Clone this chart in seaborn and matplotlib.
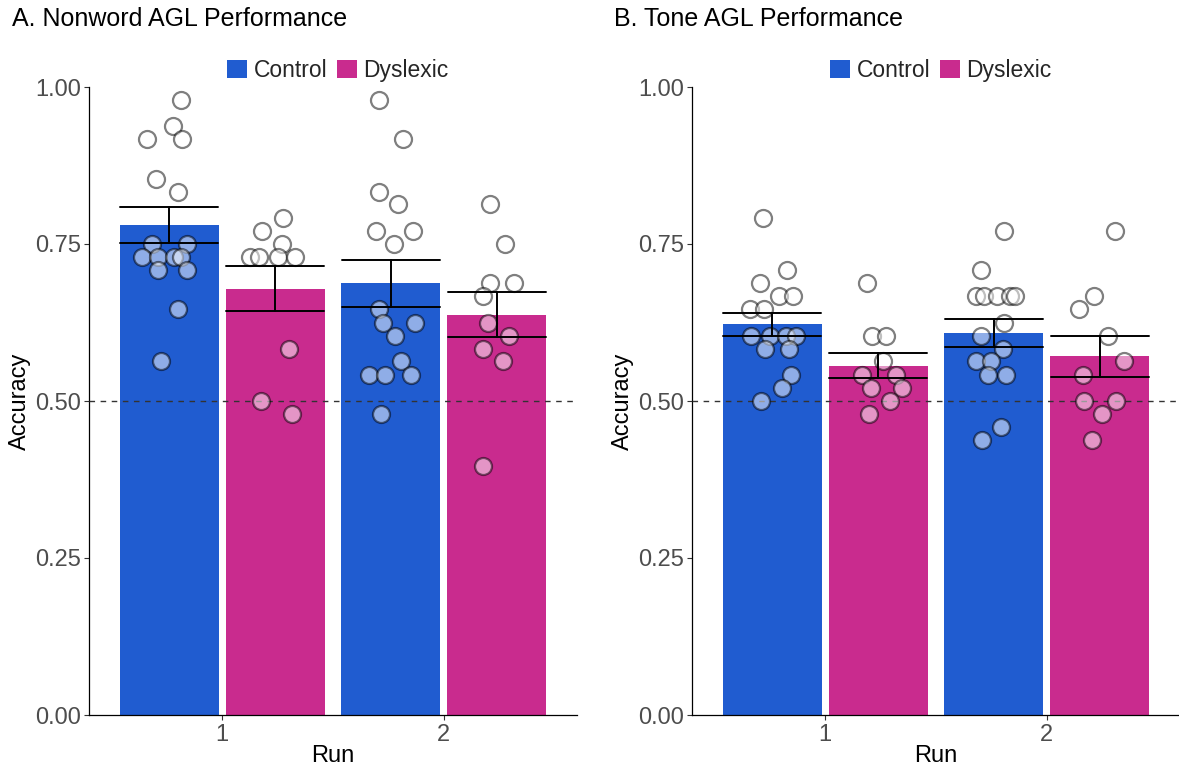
import matplotlib
matplotlib.use("Agg")
import matplotlib.pyplot as plt
import pandas as pd
import seaborn as sns

runs = ["1", "2"]
groups = ["Control", "Dyslexic"]
group_colors = {"Control": "#205CD0", "Dyslexic": "#C92B8E"}

# ---- Panel A: nonword AGL accuracy, one value per participant ----
nonword_control_run1 = [0.979, 0.938, 0.917, 0.917, 0.854, 0.833, 0.750, 0.750,
                        0.729, 0.729, 0.729, 0.729, 0.708, 0.708, 0.646, 0.563]
nonword_dyslexic_run1 = [0.792, 0.771, 0.750, 0.729, 0.729, 0.729, 0.729,
                         0.583, 0.500, 0.479]
nonword_control_run2 = [0.979, 0.917, 0.833, 0.813, 0.771, 0.771, 0.750, 0.646,
                        0.625, 0.625, 0.604, 0.563, 0.542, 0.542, 0.542, 0.479]
nonword_dyslexic_run2 = [0.813, 0.750, 0.688, 0.688, 0.667, 0.625, 0.604,
                         0.583, 0.563, 0.396]

# ---- Panel B: tone AGL accuracy, one value per participant ----
tone_control_run1 = [0.792, 0.708, 0.688, 0.667, 0.667, 0.646, 0.646, 0.604,
                     0.604, 0.604, 0.604, 0.583, 0.583, 0.542, 0.521, 0.500]
tone_dyslexic_run1 = [0.688, 0.604, 0.604, 0.563, 0.542, 0.542, 0.521, 0.521,
                      0.500, 0.479]
tone_control_run2 = [0.771, 0.708, 0.667, 0.667, 0.667, 0.667, 0.667, 0.625,
                     0.604, 0.583, 0.563, 0.563, 0.542, 0.542, 0.458, 0.438]
tone_dyslexic_run2 = [0.771, 0.667, 0.646, 0.604, 0.563, 0.542, 0.500, 0.500,
                      0.479, 0.438]

# Horizontal jitter of each participant point around its bar centre (x units)
jit_nw_c1 = [0.052, 0.017, -0.098, 0.056, -0.061, 0.040, -0.077, 0.080,
             -0.121, -0.050, 0.020, 0.055, -0.049, 0.080, 0.038, -0.038]
jit_nw_d1 = [0.035, -0.059, 0.031, -0.115, -0.073, 0.013, 0.088, 0.065, -0.064, 0.076]
jit_nw_c2 = [-0.052, 0.053, -0.052, 0.032, -0.067, 0.098, 0.016, -0.055,
             -0.034, 0.110, 0.020, 0.047, -0.100, -0.025, 0.092, -0.044]
jit_nw_d2 = [-0.029, 0.038, -0.029, 0.079, -0.062, -0.038, 0.056, -0.061, 0.028, -0.061]
jit_tn_c1 = [-0.039, 0.068, -0.055, 0.033, 0.096, -0.099, -0.035, -0.096,
             -0.009, 0.063, 0.107, -0.032, 0.078, 0.084, 0.046, -0.050]
jit_tn_d1 = [-0.052, -0.029, 0.034, 0.022, -0.073, 0.079, -0.034, 0.106, 0.056, -0.043]
jit_tn_c2 = [0.046, -0.057, -0.081, -0.047, 0.012, 0.073, 0.096, 0.046,
             -0.057, 0.041, -0.081, -0.015, -0.027, 0.055, 0.034, -0.053]
jit_tn_d2 = [0.066, -0.028, -0.095, 0.035, 0.107, -0.078, -0.072, 0.073, 0.010, -0.035]

y_ticks = [0.0, 0.25, 0.5, 0.75, 1.0]
y_tick_labels = ["0.00", "0.25", "0.50", "0.75", "1.00"]
chance_level = 0.5

DODGE_WIDTH = 0.955
TEXT_SIZE = 17
TITLE_SIZE = 18
LEGEND_SIZE = 16.5
TICK_GREY = "#4D4D4D"

sns.set_theme(style="ticks")
plt.rcParams["font.family"] = ["Liberation Sans", "DejaVu Sans"]

W, H = 1179, 769
fig = plt.figure(figsize=(W / 100, H / 100), dpi=100)
ax_a = fig.add_axes([89 / W, 54 / H, 488 / W, 628 / H])
ax_b = fig.add_axes([692 / W, 54 / H, 488 / W, 628 / H])


def long_table(cells, jitters):
    rows = []
    for (run, group), values in cells.items():
        for v, j in zip(values, jitters[(run, group)]):
            rows.append({"Run": run, "Group": group, "Accuracy": v, "jitter": j})
    return pd.DataFrame(rows)


def draw_panel(ax, df, title, title_x):
    sns.barplot(data=df, x="Run", y="Accuracy", hue="Group", order=runs,
                hue_order=groups, palette=group_colors, saturation=1,
                errorbar="se", width=DODGE_WIDTH, gap=0.066, capsize=0.89,
                err_kws={"color": "black", "linewidth": 1.4},
                edgecolor="none", ax=ax)
    for line in ax.lines:
        line.set_zorder(5)

    ax.axhline(chance_level, color="#333333", linewidth=1.0,
               linestyle=(0, (4, 4)), zorder=3)

    slot = DODGE_WIDTH / 2
    offsets = {"Control": -slot / 2, "Dyslexic": slot / 2}
    xpos = (df["Run"].map({r: i for i, r in enumerate(runs)})
            + df["Group"].map(offsets) + df["jitter"])
    ax.scatter(xpos, df["Accuracy"], s=150, facecolor="white",
               edgecolor="black", linewidth=1.6, alpha=0.5, zorder=4)

    ax.set_xlim(-0.6, 1.6)
    ax.set_ylim(0, 1)
    ax.set_yticks(y_ticks)
    ax.set_yticklabels(y_tick_labels)
    ax.set_xlabel("Run", fontsize=TEXT_SIZE, color="black", labelpad=-1)
    ax.set_ylabel("Accuracy", fontsize=TEXT_SIZE, color="black", labelpad=3)
    ax.tick_params(axis="both", labelsize=TEXT_SIZE, labelcolor=TICK_GREY,
                   color="#333333", length=3.5, width=0.8, pad=2)
    ax.tick_params(axis="x", pad=3)
    for side in ("top", "right"):
        ax.spines[side].set_visible(False)
    for side in ("left", "bottom"):
        ax.spines[side].set_linewidth(0.9)
        ax.spines[side].set_color("black")

    handles, labels = ax.get_legend_handles_labels()
    ax.legend(handles[:2], labels[:2], loc="lower center",
              bbox_to_anchor=(0.51, 0.99), ncol=2, frameon=False,
              fontsize=LEGEND_SIZE, handlelength=0.87, handleheight=0.87,
              handletextpad=0.3, columnspacing=0.4, borderaxespad=0.1)

    fig.text(title_x / W, 1 - 19 / H, title, fontsize=TITLE_SIZE,
             color="black", ha="left", va="center")


nonword = long_table(
    {("1", "Control"): nonword_control_run1, ("1", "Dyslexic"): nonword_dyslexic_run1,
     ("2", "Control"): nonword_control_run2, ("2", "Dyslexic"): nonword_dyslexic_run2},
    {("1", "Control"): jit_nw_c1, ("1", "Dyslexic"): jit_nw_d1,
     ("2", "Control"): jit_nw_c2, ("2", "Dyslexic"): jit_nw_d2})
tone = long_table(
    {("1", "Control"): tone_control_run1, ("1", "Dyslexic"): tone_dyslexic_run1,
     ("2", "Control"): tone_control_run2, ("2", "Dyslexic"): tone_dyslexic_run2},
    {("1", "Control"): jit_tn_c1, ("1", "Dyslexic"): jit_tn_d1,
     ("2", "Control"): jit_tn_c2, ("2", "Dyslexic"): jit_tn_d2})

draw_panel(ax_a, nonword, "A. Nonword AGL Performance", 12)
draw_panel(ax_b, tone, "B. Tone AGL Performance", 614)

fig.savefig("out.png", dpi=100)
